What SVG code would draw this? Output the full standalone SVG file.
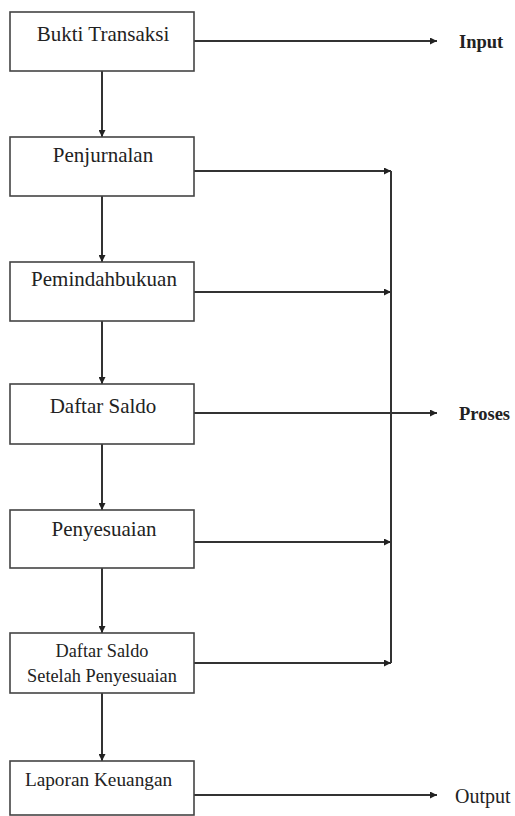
<svg xmlns="http://www.w3.org/2000/svg" width="515" height="816" viewBox="0 0 515 816" font-family="'Liberation Serif', 'Times New Roman', serif">
<style>
.box{fill:#fff;stroke:#444;stroke-width:1.6}
.nt{font-family:'Liberation Serif','Times New Roman',serif;font-size:21px;fill:#222;text-anchor:middle}
.nt2{font-family:'Liberation Serif','Times New Roman',serif;font-size:18.3px;fill:#222;text-anchor:middle}
.lbl{font-family:'Liberation Serif','Times New Roman',serif;font-size:18.5px;font-weight:bold;fill:#222}
.lblr{font-family:'Liberation Serif','Times New Roman',serif;font-size:20px;fill:#222}
.c{fill:none;stroke:#333;stroke-width:2}
</style>
<defs>
<marker id="ah" viewBox="0 0 10 10" refX="10" refY="5" markerWidth="3.5" markerHeight="3.5" orient="auto" markerUnits="strokeWidth">
<path d="M0,0 L10,5 L0,10 Z" fill="#222"/>
</marker>
</defs>
<g id="connectors">
<path class="c" d="M102,71 V137" marker-end="url(#ah)"/>
<path class="c" d="M102,196 V262" marker-end="url(#ah)"/>
<path class="c" d="M102,321 V384" marker-end="url(#ah)"/>
<path class="c" d="M102,444 V510" marker-end="url(#ah)"/>
<path class="c" d="M102,568 V633" marker-end="url(#ah)"/>
<path class="c" d="M102,693 V761" marker-end="url(#ah)"/>
<path class="c" d="M194,41 H437" marker-end="url(#ah)"/>
<path class="c" d="M194,171 H391" marker-end="url(#ah)"/>
<path class="c" d="M194,292 H391" marker-end="url(#ah)"/>
<path class="c" d="M194,413 H437" marker-end="url(#ah)"/>
<path class="c" d="M194,542 H391" marker-end="url(#ah)"/>
<path class="c" d="M194,663 H391" marker-end="url(#ah)"/>
<path class="c" d="M391,171 V663"/>
<path class="c" d="M194,795 H437" marker-end="url(#ah)"/>
</g>
<g id="n1"><rect class="box" x="10" y="12" width="184" height="59"/><text class="nt" x="103" y="41">Bukti Transaksi</text></g>
<g id="n2"><rect class="box" x="10" y="137" width="184" height="59"/><text class="nt" x="103" y="162">Penjurnalan</text></g>
<g id="n3"><rect class="box" x="10" y="262" width="184" height="59"/><text class="nt" x="104" y="286">Pemindahbukuan</text></g>
<g id="n4"><rect class="box" x="10" y="384" width="184" height="60"/><text class="nt" x="103" y="413">Daftar Saldo</text></g>
<g id="n5"><rect class="box" x="10" y="510" width="184" height="58"/><text class="nt" x="104" y="536">Penyesuaian</text></g>
<g id="n6"><rect class="box" x="10" y="633" width="184" height="60"/><text class="nt2" x="102" y="657">Daftar Saldo</text><text class="nt2" x="102" y="682">Setelah Penyesuaian</text></g>
<g id="n7"><rect class="box" x="10" y="761" width="184" height="54"/><text class="nt" x="98.5" y="786" style="font-size:19.3px">Laporan Keuangan</text></g>
<g id="l-input"><text class="lbl" x="459" y="48">Input</text></g>
<g id="l-proses"><text class="lbl" x="459" y="420">Proses</text></g>
<g id="l-output"><text class="lblr" x="455" y="803">Output</text></g>
</svg>
